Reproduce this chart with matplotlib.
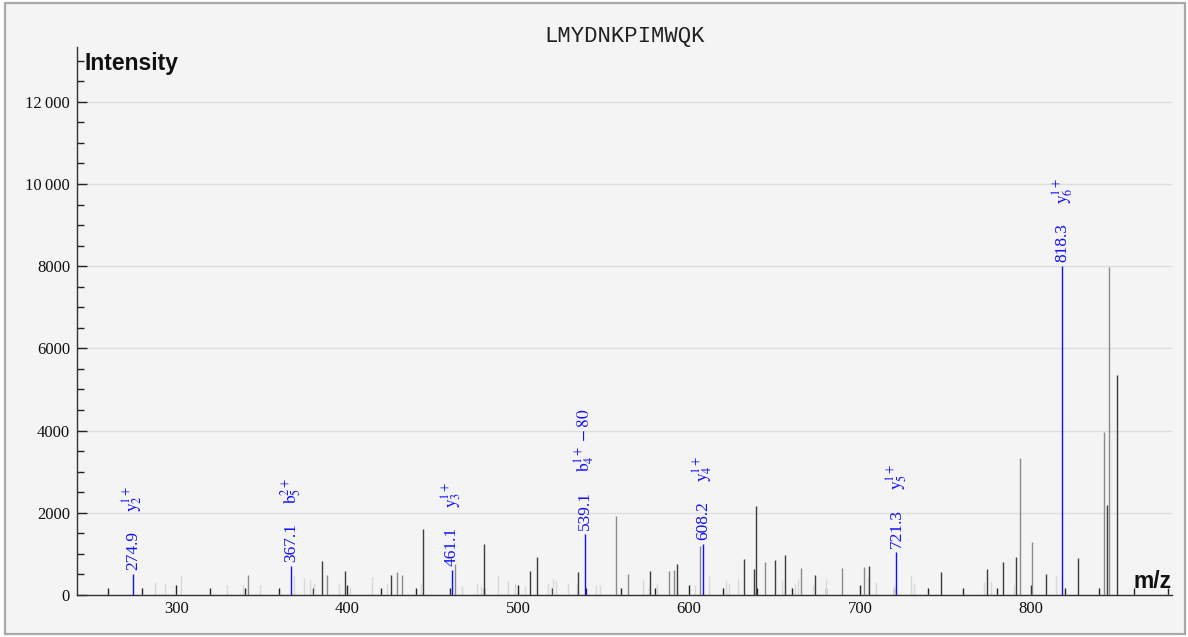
import matplotlib
matplotlib.use("Agg")
import matplotlib.pyplot as plt
from matplotlib.patches import Rectangle
from matplotlib.ticker import MultipleLocator, FixedLocator, FixedFormatter

# ---------------- data ----------------
title_text = "LMYDNKPIMWQK"

# unmatched peaks, light shade
light_mz = [287.9, 293.7, 303.1, 330.0, 339.0, 349.0, 369.2, 375.0, 378.0, 380.9,
            395.1, 401.9, 414.4, 423.2, 443.1, 467.3, 476.2, 478.4, 488.1, 494.2,
            498.2, 504.1, 517.4, 520.3, 522.2, 529.0, 534.3, 545.4, 548.1, 573.3,
            576.4, 581.3, 603.3, 611.5, 621.5, 623.4, 628.5, 654.4, 662.2, 663.7,
            672.5, 680.3, 704.5, 709.5, 720.0, 729.6, 731.6, 772.3, 776.6, 790.3,
            814.8]
light_int = [325, 284, 486, 243, 243, 243, 462, 405, 389, 284,
             267, 200, 446, 267, 284, 219, 300, 219, 486, 340,
             284, 219, 284, 389, 348, 300, 284, 243, 243, 389,
             219, 300, 243, 462, 365, 267, 389, 365, 267, 389,
             243, 389, 446, 325, 243, 486, 284, 325, 340, 243,
             462]

# unmatched peaks, medium shade
mid_mz = [341.9, 388.1, 429.0, 432.2, 463.2, 557.1, 564.1, 588.1, 591.2, 606.2,
          644.3, 665.5, 689.5, 702.3, 793.6, 800.4, 842.5, 845.6]
mid_int = [486, 486, 551, 486, 754, 1930, 503, 584, 600, 1192,
           803, 649, 649, 689, 3325, 1297, 3975, 7990]

# unmatched peaks, dark shade
dark_mz = [385.2, 399.0, 425.9, 444.3, 480.3, 507.2, 511.3, 535.3, 577.2, 593.2,
           632.2, 638.2, 639.4, 650.3, 656.3, 673.5, 705.3, 747.4, 774.3, 783.5,
           791.4, 808.6, 827.3, 844.6, 850.5]
dark_int = [827, 584, 486, 1605, 1241, 592, 924, 567, 584, 754,
            868, 632, 2165, 860, 965, 486, 705, 551, 624, 795,
            924, 510, 892, 2190, 5350]

# annotated (matched) fragment peaks
ann_mz = [274.9, 367.1, 461.1, 539.1, 608.2, 721.3, 818.3]
ann_int = [500, 705, 600, 1476, 1250, 1045, 8000]
ann_ions = [r"$\mathrm{y}_{2}^{1+}$", r"$\mathrm{b}_{5}^{2+}$", r"$\mathrm{y}_{3}^{1+}$",
            r"$\mathrm{b}_{4}^{1+}-80$", r"$\mathrm{y}_{4}^{1+}$", r"$\mathrm{y}_{5}^{1+}$",
            r"$\mathrm{y}_{6}^{1+}$"]

y_ticks = [0, 2000, 4000, 6000, 8000, 10000, 12000]
y_tick_labels = ["0", "2000", "4000", "6000", "8000", "10\u2009000", "12\u2009000"]
x_ticks = [300, 400, 500, 600, 700, 800]
x_tick_labels = ["300", "400", "500", "600", "700", "800"]

# ---------------- style ----------------
plt.rcParams["mathtext.fontset"] = "stix"
serif = ["Liberation Serif", "DejaVu Serif"]
W, H = 1188, 637
BG = "#f4f4f4"
BLUE = "#1010ff"

fig = plt.figure(figsize=(W / 100, H / 100), dpi=100)
fig.patch.set_facecolor("white")
fig.patches.append(Rectangle((5 / W, 3 / H), (1185 - 5) / W, (634 - 3) / H,
                             transform=fig.transFigure, facecolor=BG,
                             edgecolor="#a8a8a8", linewidth=1.6, zorder=-10))

ax_l, ax_r, ax_b, ax_t = 77, 1172, 595, 47
ax = fig.add_axes([ax_l / W, 1 - ax_b / H, (ax_r - ax_l) / W, (ax_b - ax_t) / H])
ax.set_facecolor("none")
ax.set_xlim(242, 882.5)
ax.set_ylim(0, 13333)

for s in ("top", "right"):
    ax.spines[s].set_visible(False)
for s in ("left", "bottom"):
    ax.spines[s].set_color("#333333")
    ax.spines[s].set_linewidth(1.0)

ax.yaxis.set_major_locator(FixedLocator(y_ticks))
ax.yaxis.set_major_formatter(FixedFormatter(y_tick_labels))
ax.yaxis.set_minor_locator(MultipleLocator(500))
ax.xaxis.set_major_locator(FixedLocator(x_ticks))
ax.xaxis.set_major_formatter(FixedFormatter(x_tick_labels))
ax.xaxis.set_minor_locator(MultipleLocator(20))

ax.tick_params(which="major", direction="in", length=7.5, width=1, color="#222222",
               labelsize=12, labelcolor="#111111")
ax.tick_params(which="minor", direction="in", length=5, width=1, color="#222222")
ax.tick_params(axis="y", which="major", pad=5)
ax.tick_params(axis="x", which="major", pad=4)
for lab in ax.get_xticklabels() + ax.get_yticklabels():
    lab.set_family(serif)

ax.grid(axis="y", which="major", color="#dedede", linewidth=1.0, zorder=0)
ax.set_axisbelow(True)

ax.vlines(light_mz, 0, light_int, colors="#d9d9d9", linewidth=1.0, zorder=2)
ax.vlines(mid_mz, 0, mid_int, colors="#8a8a8a", linewidth=1.0, zorder=3)
ax.vlines(dark_mz, 0, dark_int, colors="#3c3c3c", linewidth=1.0, zorder=4)
ax.vlines(ann_mz, 0, ann_int, colors=BLUE, linewidth=1.0, zorder=5)

for mz, inten, ion in zip(ann_mz, ann_int, ann_ions):
    ax.annotate(f"{mz:.1f}", xy=(mz, inten), xytext=(0, 4), textcoords="offset pixels",
                rotation=90, ha="center", va="bottom", color=BLUE, fontsize=12.5,
                family=serif, zorder=6)
    ax.annotate(ion, xy=(mz, inten), xytext=(0, 62), textcoords="offset pixels",
                rotation=90, ha="center", va="bottom", color=BLUE, fontsize=12.5,
                zorder=6)

fig.text(624.5 / W, 1 - 42 / H, title_text, ha="center", va="baseline",
         family=["Liberation Mono", "DejaVu Sans Mono"], fontsize=16, color="#222222")
fig.text(85 / W, 1 - 70 / H, "Intensity", ha="left", va="baseline",
         family=["Liberation Sans", "DejaVu Sans"], fontweight="bold", fontsize=16.5,
         color="#111111")
fig.text(1172 / W, 1 - 588 / H, "m/z", ha="right", va="baseline",
         family=["Liberation Sans", "DejaVu Sans"], fontweight="bold", fontsize=16.5,
         color="#111111")

fig.savefig("out.png", dpi=100, facecolor=fig.get_facecolor())
